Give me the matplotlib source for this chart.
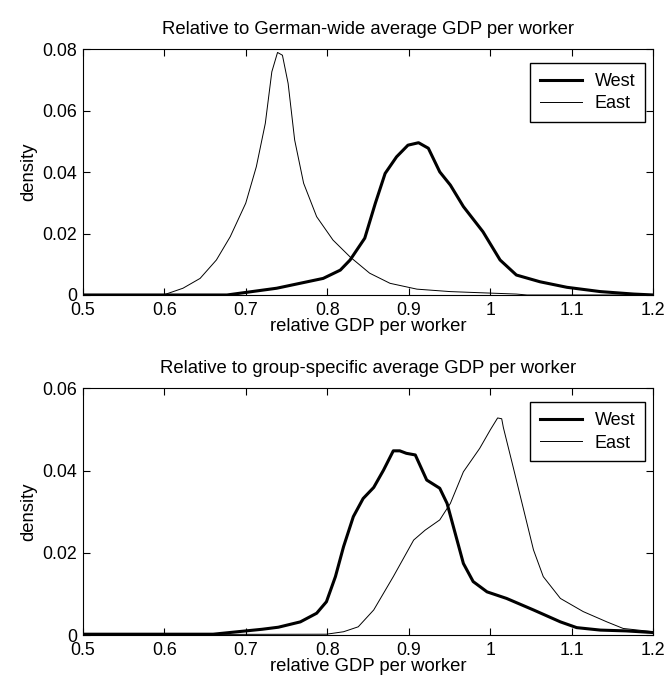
import matplotlib
matplotlib.use('Agg')
import matplotlib.pyplot as plt

plt.rcParams.update({'font.family': ['Liberation Sans', 'DejaVu Sans']})

# top panel: relative to German-wide average GDP per worker
x_east_top = [0.5, 0.599, 0.623, 0.644, 0.664, 0.681, 0.700, 0.713, 0.724, 0.732, 0.739,
              0.745, 0.752, 0.760, 0.771, 0.787, 0.807, 0.828, 0.852, 0.877, 0.910, 0.951,
              0.991, 1.032, 1.045, 1.2]
y_east_top = [0.0, 0.0, 0.0022, 0.0054, 0.0114, 0.0190, 0.0299, 0.0418, 0.0559, 0.0727,
              0.0790, 0.0781, 0.0689, 0.0505, 0.0364, 0.0255, 0.0179, 0.0124, 0.0071,
              0.0038, 0.0019, 0.0011, 0.0007, 0.0003, 0.0, 0.0]
x_west_top = [0.5, 0.677, 0.738, 0.795, 0.816, 0.828, 0.846, 0.859, 0.871, 0.885, 0.899,
              0.912, 0.924, 0.938, 0.951, 0.967, 0.991, 1.012, 1.032, 1.061, 1.094, 1.135,
              1.176, 1.2]
y_west_top = [0.0, 0.0, 0.0022, 0.0054, 0.0081, 0.0114, 0.0185, 0.0299, 0.0396, 0.0450,
              0.0488, 0.0496, 0.0478, 0.0401, 0.0358, 0.0288, 0.0206, 0.0114, 0.0065,
              0.0043, 0.0025, 0.0011, 0.0003, 0.0]

# bottom panel: relative to group-specific average GDP per worker
x_west_bot = [0.5, 0.66, 0.70, 0.72, 0.74, 0.767, 0.787, 0.799, 0.810, 0.820, 0.832,
              0.844, 0.857, 0.869, 0.881, 0.889, 0.897, 0.908, 0.922, 0.938, 0.947, 0.957,
              0.967, 0.979, 0.996, 1.020, 1.053, 1.086, 1.106, 1.135, 1.167, 1.2]
y_west_bot = [0.0002, 0.0002, 0.0010, 0.0014, 0.0019, 0.0032, 0.0053, 0.0081, 0.0142,
              0.0215, 0.0288, 0.0332, 0.0359, 0.0401, 0.0448, 0.0448, 0.0442, 0.0438,
              0.0377, 0.0357, 0.0320, 0.0247, 0.0174, 0.0130, 0.0105, 0.0089, 0.0061,
              0.0032, 0.0018, 0.0012, 0.0010, 0.0006]
x_east_bot = [0.5, 0.799, 0.820, 0.838, 0.857, 0.881, 0.906, 0.920, 0.938, 0.951, 0.967,
              0.987, 1.000, 1.009, 1.014, 1.016, 1.028, 1.041, 1.053, 1.065, 1.086, 1.114,
              1.143, 1.163, 1.2]
y_east_bot = [0.0001, 0.0002, 0.0008, 0.0020, 0.0061, 0.0142, 0.0231, 0.0255, 0.0280,
              0.0320, 0.0397, 0.0454, 0.0499, 0.0528, 0.0526, 0.0505, 0.0409, 0.0304,
              0.0207, 0.0142, 0.0089, 0.0057, 0.0032, 0.0016, 0.0008]

titles = ['Relative to German-wide average GDP per worker',
          'Relative to group-specific average GDP per worker']
yticks_top = [0, 0.02, 0.04, 0.06, 0.08]
yticks_bot = [0, 0.02, 0.04, 0.06]
xticks = [0.5, 0.6, 0.7, 0.8, 0.9, 1.0, 1.1, 1.2]
xticklabels = ['0.5', '0.6', '0.7', '0.8', '0.9', '1', '1.1', '1.2']

panels = [
    (titles[0], x_west_top, y_west_top, x_east_top, y_east_top, yticks_top),
    (titles[1], x_west_bot, y_west_bot, x_east_bot, y_east_bot, yticks_bot),
]

fig = plt.figure(figsize=(6.67, 6.86), dpi=100)
rects = [[0.124, 0.570, 0.8555, 0.358], [0.124, 0.0743, 0.8555, 0.3596]]

for rect, (title, xw, yw, xe, ye, yt) in zip(rects, panels):
    ax = fig.add_axes(rect)
    ax.plot(xw, yw, color='black', lw=2.2, label='West')
    ax.plot(xe, ye, color='black', lw=0.7, label='East')
    ax.set_xlim(0.5, 1.2)
    ax.set_ylim(0, yt[-1])
    ax.set_xticks(xticks)
    ax.set_xticklabels(xticklabels)
    ax.set_yticks(yt)
    ax.set_yticklabels(['0'] + ['%g' % v for v in yt[1:]])
    ax.tick_params(direction='in', top=True, right=True, labelsize=12.8, length=5)
    ax.tick_params(axis='x', pad=5)
    ax.tick_params(axis='y', pad=4)
    ax.set_title(title, fontsize=13.3, pad=11)
    ax.set_xlabel('relative GDP per worker', fontsize=13.3, labelpad=-1)
    ax.set_ylabel('density', fontsize=13.3, labelpad=4)
    leg = ax.legend(loc='upper right', bbox_to_anchor=(0.9855, 0.944), borderaxespad=0,
                    fontsize=13, fancybox=False, framealpha=1, edgecolor='black',
                    handlelength=2.3, handletextpad=0.7, borderpad=0.55,
                    labelspacing=0.3)
    leg.get_frame().set_linewidth(1.0)

fig.savefig('out.png', dpi=100)
